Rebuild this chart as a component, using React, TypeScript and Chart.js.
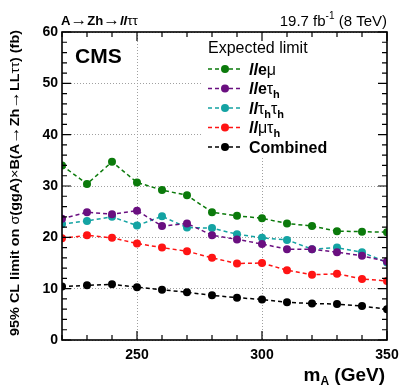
import React, { useEffect, useRef } from "react";
import { Chart, registerables } from "chart.js";

Chart.register(...registerables);

const masses = [220, 230, 240, 250, 260, 270, 280, 290, 300, 310, 320, 330, 340, 350];
const llEmu = [34.0, 30.4, 34.7, 30.7, 29.2, 28.2, 24.9, 24.2, 23.7, 22.7, 22.2, 21.2, 21.1, 21.0];
const llEtau = [23.6, 24.9, 24.5, 25.2, 22.2, 22.7, 20.4, 19.6, 18.7, 17.7, 17.7, 17.1, 16.4, 15.3];
const llTauTau = [22.6, 23.2, 24.0, 22.3, 24.1, 21.9, 21.8, 20.6, 19.9, 19.5, 17.7, 18.0, 17.1, 15.1];
const llMuTau = [19.8, 20.4, 19.9, 18.8, 18.0, 17.3, 16.0, 14.9, 15.0, 13.6, 12.7, 12.9, 11.9, 11.5];
const combined = [10.4, 10.65, 10.85, 10.3, 9.8, 9.3, 8.7, 8.25, 7.9, 7.35, 7.1, 7.0, 6.6, 6.0];

const xTickLabels = [250, 300, 350];
const yTickLabels = [0, 10, 20, 30, 40, 50, 60];

const FONT = "'Liberation Sans', Arial, Helvetica, sans-serif";

type Run = { t: string; f: string; sub?: boolean };

const B = (s: number) => `bold ${s}px ${FONT}`;
const BI = (s: number) => `italic bold ${s}px ${FONT}`;
const N = (s: number) => `${s}px ${FONT}`;

function runsWidth(ctx: CanvasRenderingContext2D, runs: Run[]) {
  let w = 0;
  for (const r of runs) {
    ctx.font = r.f;
    w += ctx.measureText(r.t).width;
  }
  return w;
}

function drawRuns(ctx: CanvasRenderingContext2D, runs: Run[], x: number, y: number, subDy: number) {
  let cx = x;
  ctx.textBaseline = "alphabetic";
  ctx.textAlign = "left";
  for (const r of runs) {
    ctx.font = r.f;
    ctx.fillText(r.t, cx, y + (r.sub ? subDy : 0));
    cx += ctx.measureText(r.t).width;
  }
  return cx;
}

const series = [
  { name: "lle\u03bc", data: llEmu, color: "#0b7a0b" },
  { name: "lle\u03c4h", data: llEtau, color: "#6a0f80" },
  { name: "ll\u03c4h\u03c4h", data: llTauTau, color: "#14a3a3" },
  { name: "ll\u03bc\u03c4h", data: llMuTau, color: "#ff1414" },
  { name: "Combined", data: combined, color: "#000000" },
];

const LS = 16;
const SS = 11;
const legendRuns: Run[][] = [
  [{ t: "ll", f: BI(LS) }, { t: "e", f: B(LS) }, { t: "\u03bc", f: N(LS) }],
  [{ t: "ll", f: BI(LS) }, { t: "e", f: B(LS) }, { t: "\u03c4", f: N(LS) }, { t: "h", f: B(SS), sub: true }],
  [
    { t: "ll", f: BI(LS) },
    { t: "\u03c4", f: N(LS) },
    { t: "h", f: B(SS), sub: true },
    { t: "\u03c4", f: N(LS) },
    { t: "h", f: B(SS), sub: true },
  ],
  [{ t: "ll", f: BI(LS) }, { t: "\u03bc", f: N(LS) }, { t: "\u03c4", f: N(LS) }, { t: "h", f: B(SS), sub: true }],
  [{ t: "Combined", f: B(LS) }],
];

const framePlugin = {
  id: "rootFrame",
  beforeDatasetsDraw(chart: any) {
    const ctx = chart.ctx as CanvasRenderingContext2D;
    ctx.save();
    ctx.fillStyle = "#ffffff";
    ctx.fillRect(203, 34, 182, 124);
    ctx.restore();
  },
  afterDraw(chart: any) {
    const ctx = chart.ctx as CanvasRenderingContext2D;
    const { left, right, top, bottom } = chart.chartArea;
    const xs = chart.scales.x;
    const ys = chart.scales.y;
    ctx.save();
    ctx.strokeStyle = "#000";
    ctx.lineWidth = 1.6;
    ctx.strokeRect(left, top, right - left, bottom - top);
    ctx.lineWidth = 1.2;
    ctx.beginPath();
    for (let v = 220; v <= 350; v += 10) {
      const px = xs.getPixelForValue(v);
      const len = v % 50 === 0 ? 9 : 5;
      ctx.moveTo(px, bottom);
      ctx.lineTo(px, bottom - len);
      ctx.moveTo(px, top);
      ctx.lineTo(px, top + len);
    }
    for (let v = 0; v <= 60; v += 2) {
      const py = ys.getPixelForValue(v);
      const len = v % 10 === 0 ? 9 : 5;
      ctx.moveTo(left, py);
      ctx.lineTo(left + len, py);
      ctx.moveTo(right, py);
      ctx.lineTo(right - len, py);
    }
    ctx.stroke();

    ctx.fillStyle = "#000";
    // CMS
    ctx.font = B(21);
    ctx.textBaseline = "alphabetic";
    ctx.fillText("CMS", 75, 63);

    // top-left process label
    const tl: Run[] = [
      { t: "A", f: B(12.5) },
      { t: "\u2192", f: N(16) },
      { t: "Zh", f: B(12.5) },
      { t: "\u2192", f: N(16) },
      { t: "ll", f: BI(12.5) },
      { t: "\u03c4\u03c4", f: N(13) },
    ];
    const tlw = runsWidth(ctx, tl);
    ctx.save();
    ctx.translate(61, 25);
    ctx.scale(77 / tlw, 1);
    drawRuns(ctx, tl, 0, 0, 0);
    ctx.restore();

    // top-right lumi
    const lumiRuns: Run[] = [
      { t: "19.7 fb", f: N(15) },
      { t: "-1", f: N(10) },
      { t: " (8 TeV)", f: N(15) },
    ];
    const lw = runsWidth(ctx, lumiRuns);
    let cx = right - lw;
    ctx.font = N(15);
    ctx.fillText("19.7 fb", cx, 26);
    cx += ctx.measureText("19.7 fb").width;
    ctx.font = N(10);
    ctx.fillText("-1", cx, 19);
    cx += ctx.measureText("-1").width;
    ctx.font = N(15);
    ctx.fillText(" (8 TeV)", cx, 26);

    // x title
    const xt: Run[] = [
      { t: "m", f: B(19) },
      { t: "A", f: B(12), sub: true },
      { t: " (GeV)", f: B(19) },
    ];
    const xw = runsWidth(ctx, xt);
    drawRuns(ctx, xt, right - 2 - xw, 381, 4);

    // y title
    const YS = 13.5;
    const yt: Run[] = [
      { t: "95% CL limit on ", f: B(YS) },
      { t: "\u03c3", f: N(YS) },
      { t: "(ggA)", f: B(YS) },
      { t: "\u00d7", f: N(YS) },
      { t: "B(A", f: B(YS) },
      { t: "\u2192", f: N(YS + 3) },
      { t: "Zh", f: B(YS) },
      { t: "\u2192", f: N(YS + 3) },
      { t: "LL", f: B(YS) },
      { t: "\u03c4\u03c4", f: N(YS) },
      { t: ") (fb)", f: B(YS) },
    ];
    const yw = runsWidth(ctx, yt);
    const target = 306;
    ctx.save();
    ctx.translate(19, top - 2);
    ctx.rotate(-Math.PI / 2);
    ctx.scale(target / yw, 1);
    drawRuns(ctx, yt, -yw, 0, 0);
    ctx.restore();

    // legend
    ctx.font = N(LS);
    ctx.fillText("Expected limit", 208, 53);
    const rowY = [69, 88.5, 108, 127.5, 147];
    series.forEach((s, i) => {
      const y = rowY[i];
      ctx.save();
      ctx.strokeStyle = s.color;
      ctx.lineWidth = 1.5;
      ctx.setLineDash([4, 3]);
      ctx.beginPath();
      ctx.moveTo(208, y);
      ctx.lineTo(242, y);
      ctx.stroke();
      ctx.setLineDash([]);
      ctx.fillStyle = s.color;
      ctx.beginPath();
      ctx.arc(225, y, 4, 0, Math.PI * 2);
      ctx.fill();
      ctx.restore();
      ctx.fillStyle = "#000";
      drawRuns(ctx, legendRuns[i], 249, y + 5.5, 4);
    });
    ctx.restore();
  },
};

export default function App() {
  const ref = useRef<HTMLCanvasElement>(null);
  useEffect(() => {
    if (!ref.current) return;
    const chart = new Chart(ref.current, {
      type: "line",
      data: {
        datasets: series.map((s) => ({
          label: s.name,
          data: masses.map((m, i) => ({ x: m, y: s.data[i] })),
          borderColor: s.color,
          backgroundColor: s.color,
          pointBackgroundColor: s.color,
          pointBorderWidth: 0,
          pointRadius: 4,
          borderWidth: 1.5,
          borderDash: [4, 3],
          tension: 0,
          fill: false,
        })),
      },
      options: {
        animation: false,
        responsive: false,
        maintainAspectRatio: false,
        layout: { padding: { left: 0, right: 20, top: 32, bottom: 0 } },
        plugins: { legend: { display: false }, tooltip: { enabled: false } },
        scales: {
          x: {
            type: "linear",
            min: 220,
            max: 350,
            afterBuildTicks: (scale: any) => {
              scale.ticks = xTickLabels.map((v) => ({ value: v }));
            },
            afterFit: (scale: any) => {
              scale.height = 51;
            },
            grid: {
              color: (c: any) => (c.tick && c.tick.value === 350 ? "rgba(0,0,0,0)" : "#a0a0a0"),
              lineWidth: 1,
              drawTicks: false,
            },
            border: { display: false, dash: [1, 2] },
            ticks: {
              color: "#000",
              font: { family: FONT, size: 14, weight: "bold" },
              padding: 7,
              maxRotation: 0,
              autoSkip: false,
            },
          },
          y: {
            type: "linear",
            min: 0,
            max: 60,
            afterBuildTicks: (scale: any) => {
              scale.ticks = yTickLabels.map((v) => ({ value: v }));
            },
            afterFit: (scale: any) => {
              scale.width = 62;
            },
            grid: {
              color: "#a0a0a0",
              lineWidth: 1,
              drawTicks: false,
            },
            border: { display: false, dash: [1, 2] },
            ticks: {
              color: "#000",
              font: { family: FONT, size: 14, weight: "bold" },
              padding: 4,
            },
          },
        },
      },
      plugins: [framePlugin],
    } as any);
    return () => chart.destroy();
  }, []);
  return (
    <div style={{ position: "fixed", left: 0, top: 0, width: 407, height: 391, background: "#fff" }}>
      <canvas ref={ref} width={407} height={391} style={{ width: 407, height: 391 }} />
    </div>
  );
}
